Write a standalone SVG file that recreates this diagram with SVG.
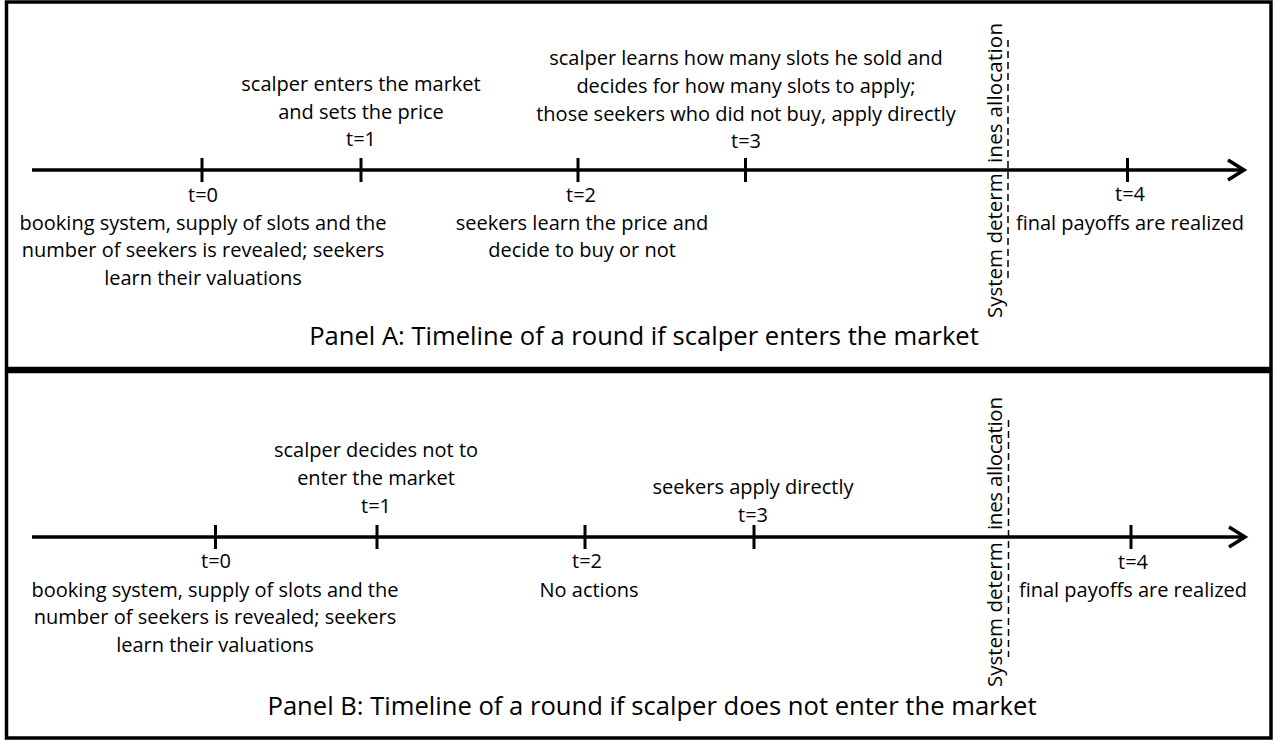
<svg xmlns="http://www.w3.org/2000/svg" width="1278" height="741" viewBox="0 0 1278 741">
<style>
  .frame { fill: #ffffff; stroke: #000000; stroke-width: 3.5; }
  .axis { stroke: #000000; stroke-width: 3.5; fill: none; marker-end: url(#arrow); }
  .tick { stroke: #000000; stroke-width: 3; }
  .dash { stroke: #000000; stroke-width: 1.5; stroke-dasharray: 7 4; fill: none; }
  text { font-family: "Open Sans", "Liberation Sans", sans-serif; font-size: 20px; fill: #000000; }
  .c { text-anchor: middle; }
  .title { font-size: 25.6px; text-anchor: middle; }
  .vert { text-anchor: start; font-size: 20.5px; }
</style>
<defs>
  <marker id="arrow" markerUnits="userSpaceOnUse" markerWidth="24" markerHeight="28" refX="17" refY="12" orient="auto" overflow="visible">
    <path d="M1,2 L17,12 L1,22" fill="none" stroke="#000000" stroke-width="3.5"/>
  </marker>
</defs>
<rect width="1278" height="741" fill="#ffffff"/>

<!-- Panel A -->
<g id="panelA">
  <rect class="frame" x="6.5" y="2" width="1264.5" height="366.5"/>
  <g id="connectorsA">
    <line class="axis" x1="32" y1="170" x2="1244" y2="170"/>
    <line class="tick" x1="202" y1="158" x2="202" y2="182"/>
    <line class="tick" x1="361" y1="158" x2="361" y2="182"/>
    <line class="tick" x1="578" y1="158" x2="578" y2="182"/>
    <line class="tick" x1="745.5" y1="158" x2="745.5" y2="182"/>
    <line class="tick" x1="1127.5" y1="158" x2="1127.5" y2="182"/>
    <line class="dash" x1="1008" y1="40" x2="1008" y2="282"/>
  </g>
  <g id="A-t0">
    <text class="c" x="203" y="202">t=0</text>
    <text class="c" x="203" y="230">booking system, supply of slots and the</text>
    <text class="c" x="203" y="257">number of seekers is revealed; seekers</text>
    <text class="c" x="203" y="285">learn their valuations</text>
  </g>
  <g id="A-t1">
    <text class="c" x="361" y="91">scalper enters the market</text>
    <text class="c" x="361" y="118.5">and sets the price</text>
    <text class="c" x="361" y="146">t=1</text>
  </g>
  <g id="A-t2">
    <text class="c" x="581" y="202">t=2</text>
    <text class="c" x="582" y="230">seekers learn the price and</text>
    <text class="c" x="582" y="257">decide to buy or not</text>
  </g>
  <g id="A-t3">
    <text class="c" x="746" y="65">scalper learns how many slots he sold and</text>
    <text class="c" x="746" y="93">decides for how many slots to apply;</text>
    <text class="c" x="746" y="120.5">those seekers who did not buy, apply directly</text>
    <text class="c" x="746" y="148">t=3</text>
  </g>
  <g id="A-alloc">
    <text class="vert" transform="translate(1002,318) rotate(-90)">System determ</text>
    <text class="vert" transform="translate(1002,163) rotate(-90)" textLength="140" lengthAdjust="spacing">ines allocation</text>
  </g>
  <g id="A-t4">
    <text class="c" x="1130" y="201">t=4</text>
    <text class="c" x="1130" y="230">final payoffs are realized</text>
  </g>
  <text class="title" x="644" y="345">Panel A: Timeline of a round if scalper enters the market</text>
</g>

<!-- Panel B -->
<g id="panelB">
  <rect class="frame" x="6.5" y="371.5" width="1264.5" height="366.5"/>
  <g id="connectorsB">
    <line class="axis" x1="32" y1="537" x2="1245" y2="537"/>
    <line class="tick" x1="215.5" y1="525" x2="215.5" y2="549"/>
    <line class="tick" x1="377" y1="525" x2="377" y2="549"/>
    <line class="tick" x1="585" y1="525" x2="585" y2="549"/>
    <line class="tick" x1="754" y1="525" x2="754" y2="549"/>
    <line class="tick" x1="1131" y1="525" x2="1131" y2="549"/>
    <line class="dash" x1="1008.5" y1="420" x2="1008.5" y2="657"/>
  </g>
  <g id="B-t0">
    <text class="c" x="216" y="568">t=0</text>
    <text class="c" x="215" y="596.5">booking system, supply of slots and the</text>
    <text class="c" x="215" y="624">number of seekers is revealed; seekers</text>
    <text class="c" x="215" y="651.5">learn their valuations</text>
  </g>
  <g id="B-t1">
    <text class="c" x="376" y="457">scalper decides not to</text>
    <text class="c" x="376" y="485">enter the market</text>
    <text class="c" x="376" y="512.5">t=1</text>
  </g>
  <g id="B-t2">
    <text class="c" x="587" y="568">t=2</text>
    <text class="c" x="589" y="596.5">No actions</text>
  </g>
  <g id="B-t3">
    <text class="c" x="753" y="494">seekers apply directly</text>
    <text class="c" x="753" y="521.5">t=3</text>
  </g>
  <g id="B-alloc">
    <text class="vert" transform="translate(1002,687) rotate(-90)">System determ</text>
    <text class="vert" transform="translate(1002,530) rotate(-90)" textLength="133" lengthAdjust="spacing">ines allocation</text>
  </g>
  <g id="B-t4">
    <text class="c" x="1133" y="569">t=4</text>
    <text class="c" x="1133" y="597">final payoffs are realized</text>
  </g>
  <text class="title" x="652" y="715">Panel B: Timeline of a round if scalper does not enter the market</text>
</g>
</svg>
